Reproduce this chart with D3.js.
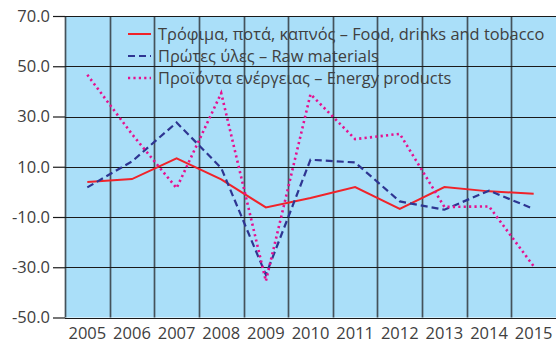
<!DOCTYPE html>
<html>
<head>
<meta charset="utf-8">
<script src="https://cdn.jsdelivr.net/npm/d3@7"></script>
<style>
  body { margin: 0; background: #fff; }
  svg { display: block; }
  text { font-family: "Open Sans", sans-serif; fill: #404040; }
</style>
</head>
<body>
<div id="chart"></div>
<script>
// Annual change (%) by product group, 2005–2015
const years = ["2005","2006","2007","2008","2009","2010","2011","2012","2013","2014","2015"];
const foodValues   = [3.9, 5.1, 13.3, 5.0, -6.2, -2.4, 1.9, -6.8, 1.9, 0.2, -0.7];
const rawValues    = [1.8, 12.1, 27.6, 9.5, -33.0, 12.8, 11.7, -3.8, -7.1, 0.5, -6.8];
const energyValues = [46.6, 23.0, 1.5, 39.3, -35.5, 38.9, 21.0, 23.1, -6.0, -5.8, -29.6];
const yTicks = [70, 50, 30, 10, -10, -30, -50];
const seriesNames = [
  "Τρόφιμα, ποτά, καπνός – Food, drinks and tobacco",
  "Πρώτες ύλες – Raw materials",
  "Προϊόντα ενέργειας – Energy products"
];

const width = 556, height = 347;
const margin = { top: 16, right: 0, bottom: 29, left: 65 };

const svg = d3.select("#chart").append("svg")
  .attr("width", width).attr("height", height);

const x = d3.scaleBand().domain(years)
  .range([margin.left, width - margin.right]).padding(0);
const y = d3.scaleLinear().domain([-50, 70])
  .range([height - margin.bottom - 0.5, margin.top]);

// plot background
svg.append("rect")
  .attr("x", margin.left).attr("y", margin.top)
  .attr("width", width - margin.right - margin.left)
  .attr("height", y(-50) - margin.top)
  .attr("fill", "#aadff9");

// vertical grid at category boundaries
svg.append("g").selectAll("line")
  .data(years)
  .join("line")
  .attr("x1", d => Math.round(x(d)) + 0.5).attr("x2", d => Math.round(x(d)) + 0.5)
  .attr("y1", margin.top).attr("y2", y(-50))
  .attr("stroke", "#44525b").attr("stroke-width", 1.7);

// horizontal grid
svg.append("g").selectAll("line")
  .data(yTicks)
  .join("line")
  .attr("x1", margin.left).attr("x2", width - margin.right)
  .attr("y1", d => Math.round(y(d)) + 0.5).attr("y2", d => Math.round(y(d)) + 0.5)
  .attr("stroke", "#1a1a1a").attr("stroke-width", 1.2);

// y axis (plain hyphen for negatives)
const fmt = d => d.toFixed(1);
const yAxis = d3.axisLeft(y).tickValues(yTicks)
  .tickFormat(fmt).tickSize(12).tickPadding(3);
const gy = svg.append("g").attr("transform", `translate(${margin.left},0)`).call(yAxis);
gy.select(".domain").remove();
gy.selectAll(".tick line").attr("stroke", "#1a1a1a").attr("stroke-width", 1.2);
gy.selectAll(".tick text").style("font-size", "16.5px").attr("fill", "#404040");

// x axis labels
const xAxis = d3.axisBottom(x).tickSize(0).tickPadding(10);
const gx = svg.append("g").attr("transform", `translate(0,${y(-50)})`).call(xAxis);
gx.select(".domain").remove();
gx.selectAll(".tick text").style("font-size", "16.5px").attr("fill", "#404040");

const cx = d => x(d) + x.bandwidth() / 2;
const line = d3.line().x(d => cx(d[0])).y(d => y(d[1]));

const series = [
  { values: foodValues,   color: "#f0232a", dash: null,  width: 2 },
  { values: rawValues,    color: "#2e3592", dash: "7,4", width: 2.2 },
  { values: energyValues, color: "#e6108f", dash: "2.2,3.2", width: 2.6 }
];

series.forEach(s => {
  svg.append("path")
    .datum(years.map((yr, i) => [yr, s.values[i]]))
    .attr("d", line)
    .attr("fill", "none")
    .attr("stroke", s.color)
    .attr("stroke-width", s.width)
    .attr("stroke-dasharray", s.dash);
});

// legend
const legend = svg.append("g");
series.forEach((s, i) => {
  const ly = 34 + i * 22;
  legend.append("line")
    .attr("x1", 128).attr("x2", 151).attr("y1", ly).attr("y2", ly)
    .attr("stroke", s.color).attr("stroke-width", s.width)
    .attr("stroke-dasharray", s.dash);
  legend.append("text")
    .attr("x", 158).attr("y", ly).attr("dy", "0.35em")
    .style("font-size", "16.4px")
    .text(seriesNames[i]);
});
</script>
</body>
</html>
